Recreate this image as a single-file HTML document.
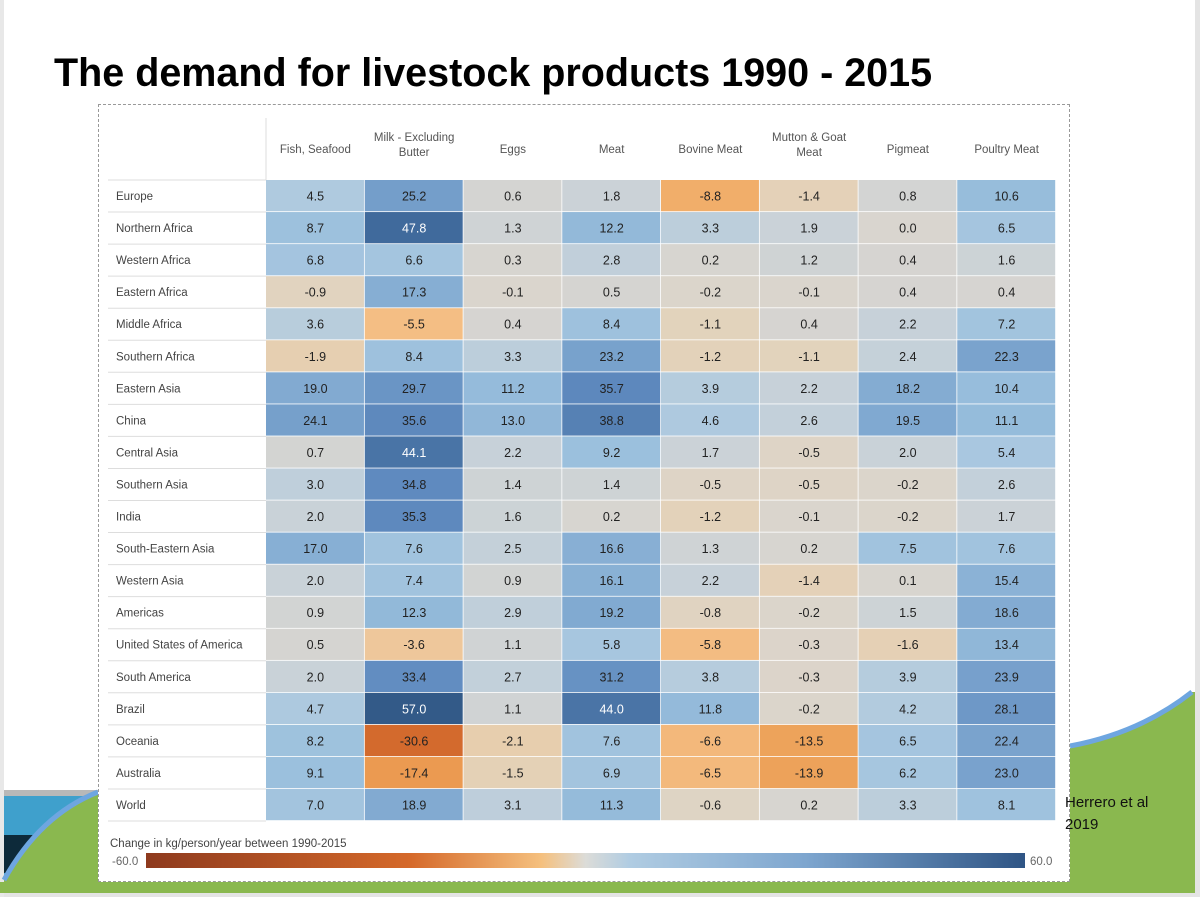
<!DOCTYPE html>
<html><head><meta charset="utf-8"><style>
body{margin:0;width:1200px;height:897px;position:relative;background:#fff;font-family:"Liberation Sans",sans-serif;overflow:hidden}
.t{position:absolute}
</style></head><body>
<svg class="t" style="left:0;top:0" width="1200" height="897">
<rect x="0" y="893" width="1200" height="4" fill="#e4e4e4"/>
<rect x="1195" y="0" width="5" height="897" fill="#e4e4e4"/>
<rect x="0" y="0" width="4" height="897" fill="#e8e8e8"/>
<rect x="4" y="790" width="94" height="6" fill="#b8b8b8"/>
<rect x="4" y="796" width="94" height="97" fill="#3fa0cc"/>
<rect x="4" y="835" width="40" height="38" fill="#0d2a3a"/>
<path d="M4 880 Q40 815 98 792 L98 893 L4 893Z" fill="#8ab84f"/>
<path d="M4 880 Q40 815 98 792" stroke="#6ea6e0" stroke-width="5" fill="none"/>
<rect x="0" y="882" width="1195" height="11" fill="#8ab84f"/>
<path d="M1070 748 Q1140 735 1192 692 L1195 692 L1195 893 L1070 893Z" fill="#8ab84f"/>
<path d="M1070 746 Q1140 733 1192 692" stroke="#6ea6e0" stroke-width="5" fill="none"/>
</svg>
<div class="t" style="left:54px;top:51px;font-size:39.5px;font-weight:bold;color:#000;white-space:nowrap">The demand for livestock products 1990 - 2015</div>
<div class="t" style="left:98px;top:104px;width:970px;height:776px;background:#fff;border:1.5px dashed #999"></div>
<div class="t" style="left:1065px;top:792px;font-size:15px;color:#111;line-height:22px">Herrero et al<br>2019</div>
<svg class="t" id="chart" style="left:0;top:0" width="1200" height="897"></svg>
<script>
const categories=["Fish, Seafood","Milk - Excluding|Butter","Eggs","Meat","Bovine Meat","Mutton & Goat|Meat","Pigmeat","Poultry Meat"];
const regions=["Europe","Northern Africa","Western Africa","Eastern Africa","Middle Africa","Southern Africa","Eastern Asia","China","Central Asia","Southern Asia","India","South-Eastern Asia","Western Asia","Americas","United States of America","South America","Brazil","Oceania","Australia","World"];
const values=[
[4.5,25.2,0.6,1.8,-8.8,-1.4,0.8,10.6],
[8.7,47.8,1.3,12.2,3.3,1.9,0.0,6.5],
[6.8,6.6,0.3,2.8,0.2,1.2,0.4,1.6],
[-0.9,17.3,-0.1,0.5,-0.2,-0.1,0.4,0.4],
[3.6,-5.5,0.4,8.4,-1.1,0.4,2.2,7.2],
[-1.9,8.4,3.3,23.2,-1.2,-1.1,2.4,22.3],
[19.0,29.7,11.2,35.7,3.9,2.2,18.2,10.4],
[24.1,35.6,13.0,38.8,4.6,2.6,19.5,11.1],
[0.7,44.1,2.2,9.2,1.7,-0.5,2.0,5.4],
[3.0,34.8,1.4,1.4,-0.5,-0.5,-0.2,2.6],
[2.0,35.3,1.6,0.2,-1.2,-0.1,-0.2,1.7],
[17.0,7.6,2.5,16.6,1.3,0.2,7.5,7.6],
[2.0,7.4,0.9,16.1,2.2,-1.4,0.1,15.4],
[0.9,12.3,2.9,19.2,-0.8,-0.2,1.5,18.6],
[0.5,-3.6,1.1,5.8,-5.8,-0.3,-1.6,13.4],
[2.0,33.4,2.7,31.2,3.8,-0.3,3.9,23.9],
[4.7,57.0,1.1,44.0,11.8,-0.2,4.2,28.1],
[8.2,-30.6,-2.1,7.6,-6.6,-13.5,6.5,22.4],
[9.1,-17.4,-1.5,6.9,-6.5,-13.9,6.2,23.0],
[7.0,18.9,3.1,11.3,-0.6,0.2,3.3,8.1]];
const scaleLabels=["-60.0","60.0"];
const posStops=[[0,[217,213,207]],[2,[201,210,216]],[5,[170,200,224]],[10,[152,190,220]],[20,[127,168,208]],[35,[95,138,191]],[48,[64,106,155]],[60,[46,84,130]]];
const negStops=[[0,[217,213,207]],[1,[226,211,189]],[5,[244,192,136]],[9,[241,173,104]],[14,[237,162,90]],[17,[236,155,82]],[31,[210,105,44]],[60,[150,60,30]]];
function color(v){const s=v>=0?posStops:negStops,a=Math.abs(v);for(let i=1;i<s.length;i++){if(a<=s[i][0]){const f=(a-s[i-1][0])/(s[i][0]-s[i-1][0]);const c=s[i-1][1].map((x,k)=>Math.round(x+(s[i][1][k]-x)*f));return `rgb(${c})`;}}return `rgb(${s[s.length-1][1]})`;}
const NS="http://www.w3.org/2000/svg",svg=document.getElementById('chart');
const x0=266,cw=98.75,y0=180,rh=32.05;
const xCol=i=>x0+i*cw, yRow=j=>y0+j*rh;
function mk(t,a,txt){const e=document.createElementNS(NS,t);for(const k in a)e.setAttribute(k,a[k]);if(txt!=null)e.textContent=txt;svg.appendChild(e);return e;}
const hl=mk('line',{x1:266,y1:118,x2:266,y2:180,stroke:'#ddd'});


categories.forEach((c,i)=>{const parts=c.split('|');parts.forEach((p,k)=>{const e=mk('text',{x:xCol(i)+cw/2,y:(parts.length==1?153:145+k*15)-(parts.length==2?4:0),'text-anchor':'middle','font-size':11.5,fill:'#555','font-family':'Liberation Sans'},p);

});});
regions.forEach((r,j)=>{const l=mk('line',{x1:108,y1:yRow(j),x2:266,y2:yRow(j),stroke:'#ddd'});


const e=mk('text',{x:116,y:yRow(j)+rh/2+4,'font-size':11.5,fill:'#444','font-family':'Liberation Sans'},r);


values[j].forEach((v,i)=>{const rc=mk('rect',{x:xCol(i),y:yRow(j),width:cw-0.8,height:rh-0.8,fill:color(v)});


const t=mk('text',{x:xCol(i)+cw/2,y:yRow(j)+rh/2+4.5,'text-anchor':'middle','font-size':12.5,fill:v>40?'#fff':'#222','font-family':'Liberation Sans'},v.toFixed(1));

});});
const bl=mk('line',{x1:108,y1:yRow(20),x2:266,y2:yRow(20),stroke:'#ddd'});


const lt=mk('text',{x:110,y:847,'font-size':11.5,fill:'#444','font-family':'Liberation Sans'},'Change in kg/person/year between 1990-2015');


const defs=mk('defs',{});const g=document.createElementNS(NS,'linearGradient');g.setAttribute('id','lg');defs.appendChild(g);
[[0,'#8e3a1e'],[0.3,'#d5692a'],[0.45,'#f5c07e'],[0.5,'#dcdcd8'],[0.55,'#b0cce2'],[0.75,'#7ea6cf'],[1,'#2f5585']].forEach(s=>{const st=document.createElementNS(NS,'stop');st.setAttribute('offset',s[0]);st.setAttribute('stop-color',s[1]);g.appendChild(st);});
const lb=mk('rect',{x:146,y:853,width:879,height:15,fill:'url(#lg)'});


const l1=mk('text',{x:112,y:865,'font-size':11.5,fill:'#666','font-family':'Liberation Sans'},scaleLabels[0]);


const l2=mk('text',{x:1030,y:865,'font-size':11.5,fill:'#666','font-family':'Liberation Sans'},scaleLabels[1]);


</script>
</body></html>
